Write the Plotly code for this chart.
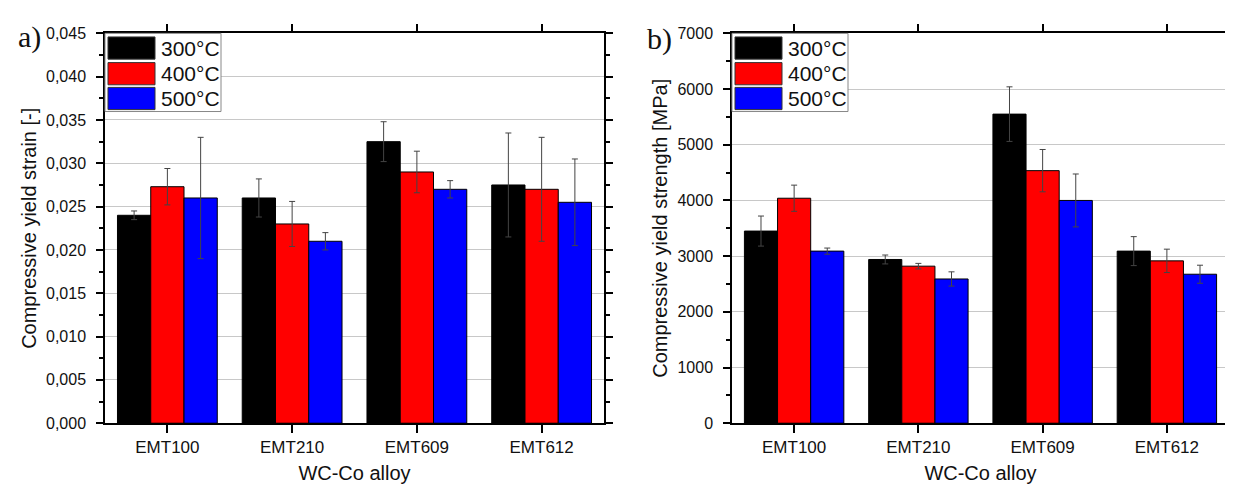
import plotly.graph_objects as go

# ---------------- data ----------------
alloys = ["EMT100", "EMT210", "EMT609", "EMT612"]
temps = ["300°C", "400°C", "500°C"]
colors = ["#000000", "#FF0000", "#0000FF"]

strain_300 = [0.0240, 0.0260, 0.0325, 0.0275]
strain_400 = [0.0273, 0.0230, 0.0290, 0.0270]
strain_500 = [0.0260, 0.0210, 0.0270, 0.0255]
strain_err_300 = [0.0005, 0.0022, 0.0023, 0.0060]
strain_err_400 = [0.0021, 0.0026, 0.0024, 0.0060]
strain_err_500 = [0.0070, 0.0010, 0.0010, 0.0050]

stren_300 = [3450, 2940, 5550, 3090]
stren_400 = [4040, 2820, 4535, 2915]
stren_500 = [3090, 2590, 4000, 2675]
stren_err_300 = [270, 80, 490, 260]
stren_err_400 = [235, 50, 380, 210]
stren_err_500 = [55, 128, 475, 162]

strain_ticks = [0.000, 0.005, 0.010, 0.015, 0.020, 0.025, 0.030, 0.035, 0.040, 0.045]
strain_ticktext = ["0,000", "0,005", "0,010", "0,015", "0,020", "0,025", "0,030", "0,035", "0,040", "0,045"]
stren_ticks = [0, 1000, 2000, 3000, 4000, 5000, 6000, 7000]
stren_ticktext = ["0", "1000", "2000", "3000", "4000", "5000", "6000", "7000"]

# ---------------- layout constants ----------------
W, H = 1233, 485
TOP, BOT = 18, 422
LEFT_PANEL = (97, 596)
RIGHT_PANEL = (724, 1221)
FONT = "Liberation Sans, Arial, sans-serif"

fig = go.Figure()

left_sets = [(strain_300, strain_err_300), (strain_400, strain_err_400), (strain_500, strain_err_500)]
right_sets = [(stren_300, stren_err_300), (stren_400, stren_err_400), (stren_500, stren_err_500)]

for (vals, errs), name, col in zip(left_sets, temps, colors):
    fig.add_trace(go.Bar(
        x=alloys, y=vals, name=name, marker=dict(color=col, line=dict(color="#000000", width=1)),
        error_y=dict(type="data", array=errs, visible=True, color="#444444", thickness=1, width=3),
        xaxis="x", yaxis="y", showlegend=False, offsetgroup=name,
    ))
for (vals, errs), name, col in zip(right_sets, temps, colors):
    fig.add_trace(go.Bar(
        x=alloys, y=vals, name=name, marker=dict(color=col, line=dict(color="#000000", width=1)),
        error_y=dict(type="data", array=errs, visible=True, color="#444444", thickness=1, width=3),
        xaxis="x2", yaxis="y2", showlegend=False, offsetgroup=name,
    ))

def xdom(p):
    return [p[0] / W, p[1] / W]

ydom = [1 - BOT / H, 1 - TOP / H]

common_x = dict(
    range=[-0.5, 3.5], showline=True, linecolor="black", linewidth=1.5, mirror="ticks",
    ticks="outside", ticklen=8, tickwidth=1.5, tickcolor="black", showgrid=False,
    tickfont=dict(family=FONT, size=17, color="#111"),
    title=dict(text="WC-Co alloy", font=dict(family=FONT, size=20, color="#111"), standoff=10),
    zeroline=False,
)
common_y = dict(
    showline=True, linecolor="black", linewidth=1.5, mirror="ticks",
    ticks="outside", ticklen=7, tickwidth=1.5, tickcolor="black",
    showgrid=True, gridcolor="#c8c8c8", gridwidth=1, zeroline=False,
    tickfont=dict(family=FONT, size=16, color="#111"), ticklabelstandoff=7,
)

fig.update_layout(
    width=W, height=H,
    margin=dict(l=0, r=0, t=0, b=0),
    paper_bgcolor="white", plot_bgcolor="white",
    barmode="group", bargap=0.2, bargroupgap=0,
    xaxis=dict(domain=xdom(LEFT_PANEL), anchor="y", **common_x),
    xaxis2=dict(domain=xdom(RIGHT_PANEL), anchor="y2", **common_x),
    yaxis=dict(domain=ydom, anchor="x", range=[0, 0.045], tickvals=strain_ticks, ticktext=strain_ticktext,
               minor=dict(dtick=0.0025, ticklen=4, tickcolor="black", tickwidth=1.5, ticks="outside", showgrid=False),
               title=dict(text="Compressive yield strain [-]", font=dict(family=FONT, size=20, color="#111"), standoff=4),
               **common_y),
    yaxis2=dict(domain=ydom, anchor="x2", range=[0, 7000], tickvals=stren_ticks, ticktext=stren_ticktext,
                minor=dict(dtick=500, ticklen=4, tickcolor="black", tickwidth=1.5, ticks="outside", showgrid=False),
                title=dict(text="Compressive yield strength [MPa]", font=dict(family=FONT, size=20, color="#111"), standoff=4),
                **common_y),
)

# ---------------- custom legend (large swatches, like the original) ----------------
def add_legend(panel, xref, yref):
    pw = panel[1] - panel[0]
    ph = BOT - TOP
    fx = lambda px: px / pw
    fy = lambda py: 1 - py / ph
    fig.add_shape(type="rect", xref=xref, yref=yref, x0=fx(0), x1=fx(116), y0=fy(81), y1=fy(0),
                  line=dict(color="#888888", width=1), fillcolor="white", layer="above")
    rows = [3.7, 30.3, 56.0]
    for r, name, col in zip(rows, temps, colors):
        fig.add_shape(type="rect", xref=xref, yref=yref, x0=fx(3), x1=fx(50), y0=fy(r + 23), y1=fy(r),
                      line=dict(color="#333333", width=1), fillcolor=col, layer="above")
        fig.add_annotation(xref=xref, yref=yref, x=fx(54), y=fy(r + 11.5), text=name, showarrow=False,
                           xanchor="left", yanchor="middle", font=dict(family=FONT, size=21, color="#111"))

add_legend(LEFT_PANEL, "x domain", "y domain")
add_legend(RIGHT_PANEL, "x2 domain", "y2 domain")

# panel letters
fig.add_annotation(xref="paper", yref="paper", x=8 / W, y=1 - 22 / H, text="a)", showarrow=False,
                   xanchor="left", yanchor="middle", font=dict(family="Liberation Serif, Times New Roman, serif", size=30, color="#111"))
fig.add_annotation(xref="paper", yref="paper", x=637 / W, y=1 - 24 / H, text="b)", showarrow=False,
                   xanchor="left", yanchor="middle", font=dict(family="Liberation Serif, Times New Roman, serif", size=30, color="#111"))

fig.write_html("out.html")
